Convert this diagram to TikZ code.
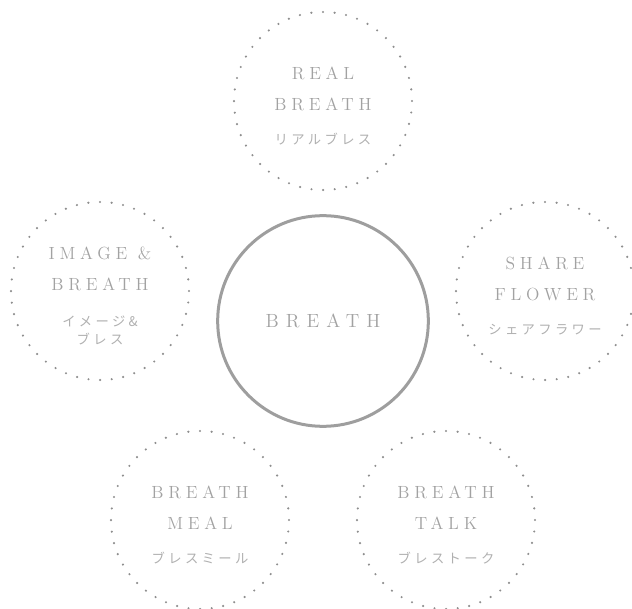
\documentclass[tikz,border=0pt]{standalone}
\usepackage{fontspec}
\newfontfamily\capsfont{lmroman12-regular.otf}[LetterSpace=27]
\newfontfamily\hubfont{lmroman12-regular.otf}[LetterSpace=37]
\newfontfamily\jpfont{Noto Sans CJK JP}[LetterSpace=25]
\usepackage{tikz}
\definecolor{ringgray}{HTML}{9E9E9E}
\definecolor{dotgray}{HTML}{8E8E8E}
\definecolor{capsgray}{HTML}{A2A2A2}
\definecolor{kanagray}{HTML}{B0B0B0}
\newcommand{\kana}{\jpfont\fontsize{10pt}{13.5pt}\selectfont\color{kanagray}}
\newcommand{\topline}{\rule{0pt}{17pt}}

\begin{document}
\begin{tikzpicture}[x=0.75pt, y=-0.75pt,
    hub/.style={circle, draw=ringgray, line width=2.25pt, minimum size=158pt,
        inner sep=0pt, text=capsgray,
        font=\hubfont\fontsize{14.3pt}{20pt}\selectfont},
    petal/.style={circle, draw=dotgray, line width=1.8pt, line cap=round,
        dash pattern=on 0pt off 8.74pt, minimum size=133.5pt, inner sep=0pt,
        align=center, text=capsgray,
        font=\capsfont\fontsize{13.2pt}{23.25pt}\selectfont}]
    \useasboundingbox (0,0) rectangle (632,609);

    \node[hub] (breath) at (323,321) {BREATH};

    \node[petal] (real)   at (323,101) {\topline REAL\\BREATH\\[2pt]\kana リアルブレス};
    \node[petal] (image)  at (100,291) {\topline IMAGE \&\\BREATH\\[4pt]\kana イメージ\&\\[-9.75pt]\kana ブレス};
    \node[petal] (share)  at (545,291) {\topline SHARE\\FLOWER\\[2pt]\kana シェアフラワー};
    \node[petal] (meal)   at (200,520) {\topline BREATH\\MEAL\\[2pt]\kana ブレスミール};
    \node[petal] (talk)   at (446,520) {\topline BREATH\\TALK\\[2pt]\kana ブレストーク};
\end{tikzpicture}
\end{document}
